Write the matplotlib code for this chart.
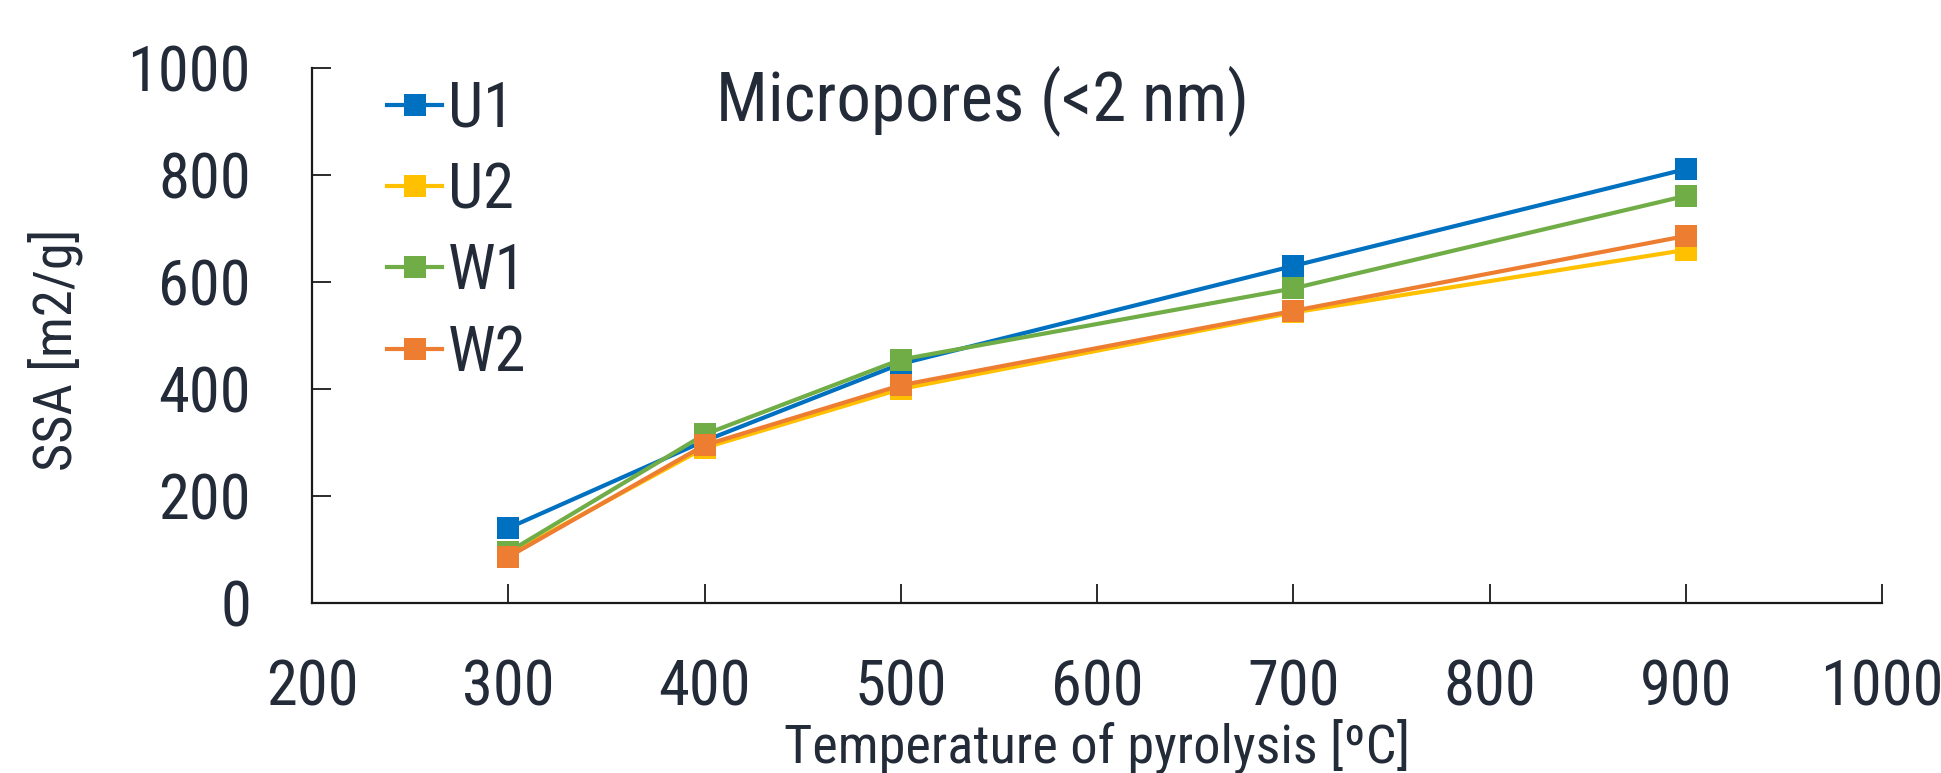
import matplotlib
matplotlib.use("Agg")
import matplotlib.pyplot as plt
from matplotlib import font_manager

# ---- data ----
temperatures = [300, 400, 500, 700, 900]
series_names = ["U1", "U2", "W1", "W2"]
u1 = [140, 303, 447, 630, 811]
u2 = [90, 290, 400, 543, 660]
w1 = [95, 315, 455, 588, 761]
w2 = [86, 295, 407, 546, 686]
x_ticks = [200, 300, 400, 500, 600, 700, 800, 900, 1000]
y_ticks = [0, 200, 400, 600, 800, 1000]
title = "Micropores (<2 nm)"
x_label = "Temperature of pyrolysis [ºC]"
y_label = "SSA [m2/g]"

colors = ["#0070C0", "#FFC000", "#70AD47", "#ED7D31"]
text_color = "#232B38"

# pick a condensed font if available
avail = {f.name for f in font_manager.fontManager.ttflist}
fam = []
for cand in ["Liberation Sans Narrow", "DejaVu Sans Condensed", "Roboto Condensed",
             "Open Sans Condensed", "DejaVu Sans"]:
    if cand in avail:
        fam.append(cand)
fam.append("DejaVu Sans")
plt.rcParams["font.family"] = fam

FS = 45

fig = plt.figure(figsize=(19.41, 7.73), dpi=100)
W, H = 1941, 773
ax = fig.add_axes([312 / W, (H - 603) / H, 1570 / W, 535 / H])

for name, vals, c in zip(series_names, [u1, u2, w1, w2], colors):
    ax.plot(temperatures, vals, color=c, lw=3.0, marker="s", markersize=16.5,
            markeredgewidth=0, label=name, clip_on=False, zorder=3)

ax.set_xlim(200, 1000)
ax.set_ylim(0, 1000)
ax.set_xticks(x_ticks)
ax.set_yticks(y_ticks)
for s in ["top", "right"]:
    ax.spines[s].set_visible(False)
for s in ["left", "bottom"]:
    ax.spines[s].set_color("#1a1a1a")
    ax.spines[s].set_linewidth(1.6)
ax.tick_params(axis="both", direction="in", length=14, width=1.3, colors="#1a1a1a",
               labelsize=FS, labelcolor=text_color)
ax.tick_params(axis="y", pad=44)
ax.tick_params(axis="x", pad=40)

leg = ax.legend(loc="upper left", bbox_to_anchor=(0.048, 0.978), frameon=False,
                fontsize=FS, handlelength=0.87, handletextpad=0.1,
                labelspacing=0.34, borderpad=0, borderaxespad=0)
for t in leg.get_texts():
    t.set_color(text_color)

fig.text(982 / W, 1 - 101 / H, title, ha="center", va="center",
         fontsize=FS * 1.1, color=text_color)
fig.text(56 / W, 1 - 350 / H, y_label, ha="center", va="center", rotation=90,
         fontsize=FS * 0.87, color=text_color)
fig.text(1097 / W, 1 - 747 / H, x_label, ha="center", va="center",
         fontsize=FS * 0.87, color=text_color)

fig.savefig("out.png", dpi=100, facecolor="white")
